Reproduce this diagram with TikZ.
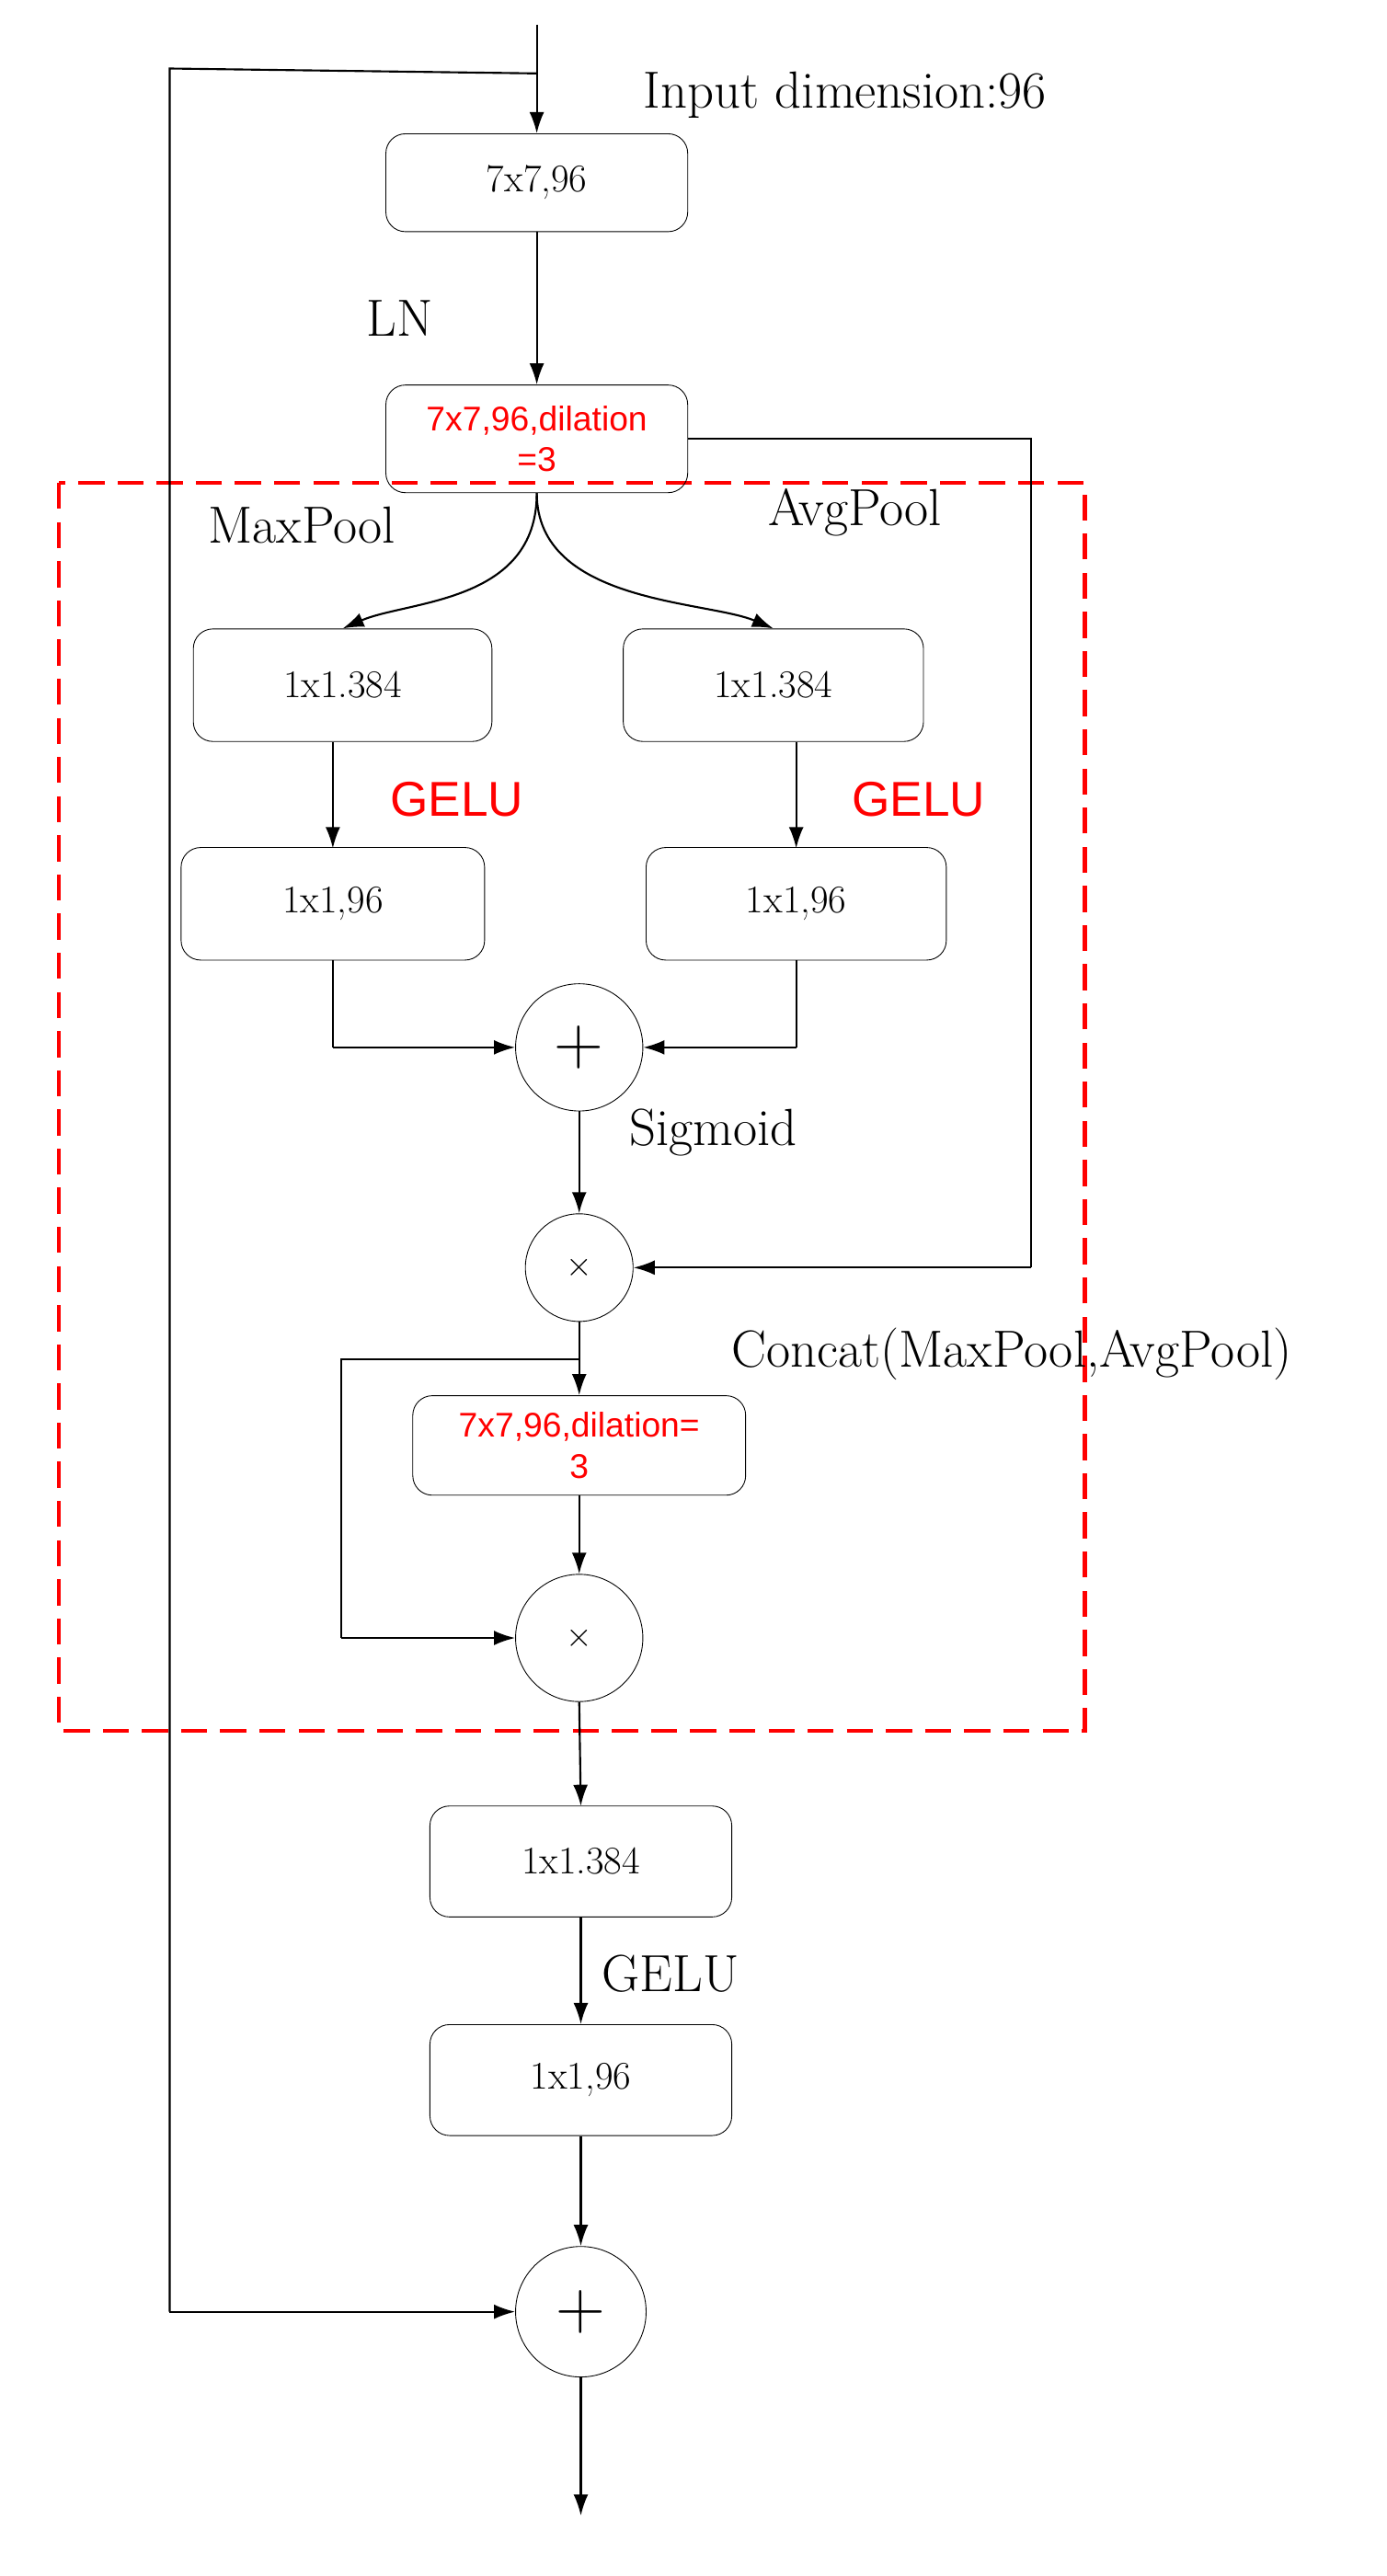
\documentclass[tikz,border=0pt]{standalone}
\usepackage{fontspec}
\newfontfamily\sansred{Liberation Sans}
\usetikzlibrary{arrows.meta}
\begin{document}
\begin{tikzpicture}[x=1pt,y=-1pt,
  box/.style={draw,rounded corners=12pt,line width=0.5pt,font=\fontsize{24}{26}\selectfont},
  rbox/.style={draw,rounded corners=12pt,line width=0.5pt,text=red,font=\sansred\fontsize{21}{25}\selectfont,align=center},
  circ/.style={draw,circle,line width=0.5pt,inner sep=0pt},
  lab/.style={font=\fontsize{32}{34}\selectfont},
  rlab/.style={text=red,font=\sansred\fontsize{30}{32}\selectfont},
  ar/.style={line width=1.2pt,-{Latex[length=13pt,width=9pt]}},
  ln/.style={line width=1.2pt}]
\useasboundingbox (0,0) rectangle (850,1579);
\draw[red,line width=2.5pt,dash pattern=on 16pt off 8pt] (36,296) rectangle (665,1061);
\node[box,minimum width=185pt,minimum height=60pt] (b1) at (329,112) {7x7,96};
\node[rbox,minimum width=185pt,minimum height=66pt,inner sep=1pt] (b2) at (329,269) {7x7,96,dilation\\=3};
\node[box,minimum width=183pt,minimum height=69pt] (l1) at (210,420) {1x1.384};
\node[box,minimum width=184pt,minimum height=69pt] (r1) at (474,420) {1x1.384};
\node[box,minimum width=186pt,minimum height=69pt] (l2) at (204,554) {1x1,96};
\node[box,minimum width=184pt,minimum height=69pt] (r2) at (488,554) {1x1,96};
\node[circ,minimum size=78pt,font=\fontsize{42}{42}\selectfont] (p1) at (355,642) {+};
\node[circ,minimum size=66pt,font=\fontsize{20}{20}\selectfont] (t1) at (355,777) {$\times$};
\node[rbox,minimum width=204pt,minimum height=61pt,inner sep=1pt] (b3) at (355,886) {7x7,96,dilation=\\3};
\node[circ,minimum size=78pt,font=\fontsize{20}{20}\selectfont] (t2) at (355,1004) {$\times$};
\node[box,minimum width=185pt,minimum height=68pt] (b4) at (356,1141) {1x1.384};
\node[box,minimum width=185pt,minimum height=68pt] (b5) at (356,1275) {1x1,96};
\node[circ,minimum size=80pt,font=\fontsize{42}{42}\selectfont] (p2) at (356,1417) {+};
\coordinate (top) at (329,15);
\coordinate (out) at (356,1542);
% labels
\node[lab] at (518,58) {Input dimension:96};
\node[lab] at (245,195) {LN};
\node[lab] at (185,322) {MaxPool};
\node[lab] at (524,314) {AvgPool};
\node[rlab] at (280,490) {GELU};
\node[rlab] at (563,490) {GELU};
\node[lab] at (437,694) {Sigmoid};
\node[lab] at (620,830) {Concat(MaxPool,AvgPool)};
\node[lab] at (411,1210) {GELU};
% connectors
\draw[ar] (top) -- (b1.north);
\draw[ln] (329,45) -- (104,42) -- (104,1417);
\draw[ar] (104,1417) -- (p2.west);
\draw[ar] (b1.south) -- (b2.north);
\draw[ln] (b2.east) -- (632,269) -- (632,777);
\draw[ar] (632,777) -- (t1.east);
\draw[ar] (b2.south) .. controls (329,370) and (250,368) .. (l1.north);
\draw[ar] (b2.south) .. controls (329,370) and (433,368) .. (r1.north);
\draw[ar] (204,455) -- (204,520);
\draw[ar] (488,455) -- (488,520);
\draw[ln] (l2.south) -- (204,642);
\draw[ar] (204,642) -- (p1.west);
\draw[ln] (r2.south) -- (488,642);
\draw[ar] (488,642) -- (p1.east);
\draw[ar] (p1.south) -- (t1.north);
\draw[ar] (t1.south) -- (b3.north);
\draw[ln] (355,833) -- (209,833) -- (209,1004);
\draw[ar] (209,1004) -- (t2.west);
\draw[ar] (b3.south) -- (t2.north);
\draw[ar] (t2.south) -- (356,1107);
\draw[ar] (b4.south) -- (b5.north);
\draw[ar] (b5.south) -- (p2.north);
\draw[ar] (p2.south) -- (out);
\end{tikzpicture}
\end{document}
